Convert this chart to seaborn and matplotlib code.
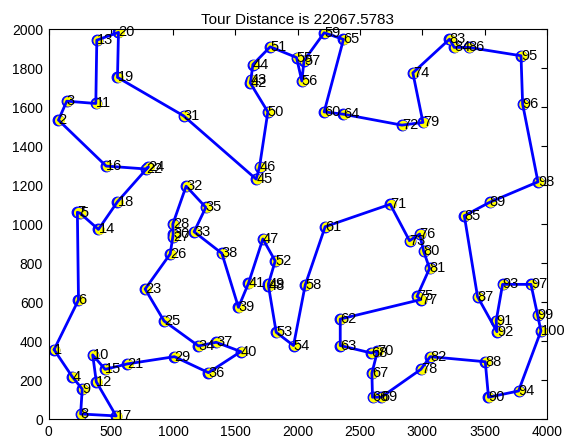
import numpy as np
import pandas as pd
import matplotlib
matplotlib.use("Agg")
import matplotlib.pyplot as plt
import matplotlib.transforms as mtrans
import seaborn as sns

# city coordinates (city i is at index i-1)
city_x = [44, 79, 146, 190, 253, 240, 231, 257, 270, 354,
          379, 383, 387, 400, 454, 462, 542, 553, 553, 561,
          633, 783, 775, 801, 927, 976, 997, 997, 1010, 1000,
          1083, 1104, 1168, 1203, 1262, 1283, 1345, 1391, 1524, 1543,
          1604, 1618, 1624, 1640, 1666, 1693, 1720, 1765, 1765, 1760,
          1779, 1819, 1827, 1966, 1990, 2033, 2050, 2060, 2212, 2212,
          2220, 2341, 2341, 2367, 2367, 2600, 2595, 2590, 2670, 2640,
          2742, 2836, 2897, 2924, 2957, 2978, 2988, 2988, 3005, 3010,
          3058, 3063, 3218, 3256, 3337, 3371, 3443, 3505, 3540, 3531,
          3593, 3599, 3644, 3772, 3792, 3805, 3872, 3928, 3925, 3952]
city_y = [357, 1535, 1632, 218, 1057, 612, 1062, 27, 155, 330,
          1620, 192, 1945, 974, 256, 1299, 17, 1116, 1754, 1985,
          284, 1284, 668, 1295, 504, 848, 935, 1001, 321, 948,
          1557, 1196, 962, 376, 1087, 239, 395, 851, 574, 347,
          697, 1726, 1743, 1820, 1232, 1295, 925, 684, 695, 1577,
          1911, 812, 446, 378, 1856, 1735, 1840, 689, 1983, 1577,
          988, 514, 378, 1565, 1949, 113, 236, 340, 113, 350,
          1103, 1509, 916, 1777, 630, 950, 614, 256, 1523, 863,
          774, 321, 1950, 1908, 1044, 1908, 629, 295, 1113, 113,
          506, 449, 692, 145, 1865, 1617, 692, 1218, 535, 453]

tour = [1, 6, 7, 5, 14, 18, 24, 22, 16, 2, 3, 11, 13, 20, 19, 31, 45, 46, 50,
        42, 43, 44, 51, 55, 56, 57, 59, 65, 60, 64, 72, 79, 74, 83, 84, 86, 95,
        96, 98, 89, 85, 87, 92, 91, 93, 97, 99, 100, 94, 90, 88, 82, 78, 69, 66,
        67, 70, 68, 63, 62, 77, 75, 81, 80, 76, 73, 71, 61, 58, 54, 53, 48, 49,
        52, 47, 41, 39, 38, 33, 35, 32, 28, 30, 27, 26, 23, 25, 34, 37, 40, 36,
        29, 21, 15, 10, 12, 17, 8, 9, 4, 1]

title_text = "Tour Distance is 22067.5783"

sns.set_theme(style="white")
plt.rcParams['font.family'] = ['Liberation Sans', 'DejaVu Sans']

cities = pd.DataFrame({'x': city_x, 'y': city_y, 'id': np.arange(1, len(city_x) + 1)})
path = pd.DataFrame({'step': np.arange(len(tour)),
                     'x': [city_x[i - 1] for i in tour],
                     'y': [city_y[i - 1] for i in tour]})

fig = plt.figure(figsize=(5.65, 4.46), dpi=100)
ax = fig.add_axes([0.086, 0.060, 0.882, 0.874])

# blue ring, then a yellow disc nudged slightly right (matlab-ish look)
sns.scatterplot(data=cities, x='x', y='y', ax=ax, s=60, color='#0000ff',
                edgecolor='#0000ff', linewidth=0.8, zorder=2)
sns.scatterplot(data=cities, x='x', y='y', ax=ax, s=50, color='#ffff00',
                edgecolor='none', linewidth=0, zorder=2.5)
shift = mtrans.ScaledTranslation(1.5 / 100, -0.5 / 100, fig.dpi_scale_trans)
ax.collections[-1].set_offset_transform(ax.transData + shift)

sns.lineplot(data=path, x='x', y='y', ax=ax, sort=False, estimator=None,
             color='#0000ff', linewidth=2.0, zorder=3)

for _, r in cities.iterrows():
    ax.text(r['x'], r['y'], str(int(r['id'])), ha='left', va='center',
            fontsize=10.5, color='black', zorder=4)

ax.set_xlim(0, 4000)
ax.set_ylim(0, 2000)
ax.set_xticks(np.arange(0, 4001, 500))
ax.set_yticks(np.arange(0, 2001, 200))
ax.set_xlabel('')
ax.set_ylabel('')
ax.tick_params(direction='in', length=4, width=0.8, top=True, right=True,
               labelsize=10, colors='black', pad=4)
for sp in ax.spines.values():
    sp.set_color('black')
    sp.set_linewidth(0.8)
ax.set_title(title_text, fontsize=11, color='black', pad=4)

fig.savefig('out.png', dpi=100)
